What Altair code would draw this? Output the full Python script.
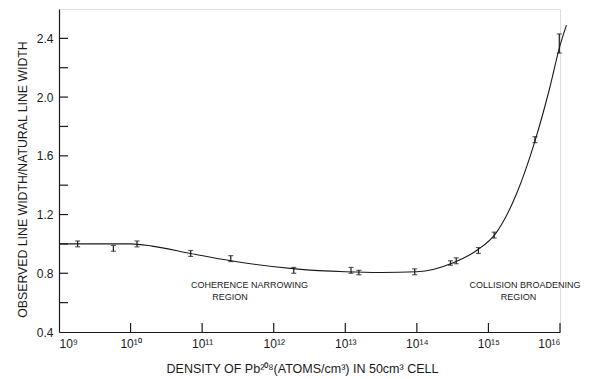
import altair as alt
import pandas as pd

# measured points: log10(density), ratio, error low, error high
pt_logx = [9.26, 9.76, 10.09, 10.84, 11.40, 12.28, 13.08, 13.19, 13.97, 14.47, 14.55, 14.86, 15.08, 15.65, 15.99]
pt_y    = [1.00, 0.97, 1.00, 0.935, 0.90, 0.82, 0.82, 0.805, 0.81, 0.87, 0.885, 0.955, 1.06, 1.71, 2.37]
pt_lo   = [0.98, 0.95, 0.98, 0.915, 0.88, 0.80, 0.80, 0.79, 0.79, 0.855, 0.865, 0.935, 1.04, 1.69, 2.30]
pt_hi   = [1.02, 0.99, 1.02, 0.955, 0.92, 0.84, 0.84, 0.82, 0.83, 0.885, 0.905, 0.975, 1.08, 1.73, 2.43]

# hand-drawn smooth curve through the data
curve_logx = [9.0, 9.5, 10.0, 10.3, 10.84, 11.4, 12.3, 13.0, 13.5, 14.0, 14.5, 14.85, 15.1, 15.4, 15.65, 15.85, 16.0, 16.09]
curve_y    = [1.0, 1.0, 1.0, 0.985, 0.935, 0.885, 0.83, 0.81, 0.805, 0.81, 0.87, 0.96, 1.07, 1.35, 1.70, 2.05, 2.35, 2.49]

x_ticks = [10, 11, 12, 13, 14, 15, 16]
x_labels = {9: "10⁹", 10: "10¹⁰", 11: "10¹¹", 12: "10¹²", 13: "10¹³", 14: "10¹⁴", 15: "10¹⁵", 16: "10¹⁶"}
y_label_vals = [0.4, 0.8, 1.2, 1.6, 2.0, 2.4]
y_ticks = [0.6, 0.8, 1.0, 1.2, 1.4, 1.6, 1.8, 2.0, 2.2, 2.4]

notes_text = ["COHERENCE NARROWING", "REGION", "COLLISION BROADENING", "REGION"]
notes_x = [11.66, 11.39, 15.51, 15.42]
notes_y = [0.72, 0.635, 0.72, 0.635]

W, H = 501, 323
INK = "#1a1a1a"
FONT = "Liberation Sans"
XT = "DENSITY OF Pb²⁰⁸(ATOMS/cm³) IN 50cm³ CELL"
YT = "OBSERVED LINE WIDTH/NATURAL LINE WIDTH"

pts = pd.DataFrame({"x": pt_logx, "y": pt_y, "lo": pt_lo, "hi": pt_hi})
curve = pd.DataFrame({"x": curve_logx, "y": curve_y})
xt = pd.DataFrame({"x": x_ticks})
yt = pd.DataFrame({"y": y_ticks})
notes = pd.DataFrame({"t": notes_text, "x": notes_x, "y": notes_y})

xscale = alt.Scale(domain=[9, 16], nice=False, zero=False)
yscale = alt.Scale(domain=[0.4, 2.6], nice=False, zero=False)

label_expr = "{" + ",".join(f"'{k}':'{v}'" for k, v in x_labels.items()) + "}[datum.value]"

xaxis = alt.Axis(
    values=list(x_labels.keys()), labelExpr=label_expr, ticks=False, grid=False,
    domainColor=INK, domainWidth=1.2, labelColor=INK, labelFont=FONT, labelFontSize=12,
    labelPadding=6, titleFont=FONT, titleFontSize=12.5,
    titleFontWeight="normal", titleColor=INK, titleX=243, titleY=36, titleBaseline="middle",
    titleAlign="center",
)
yaxis = alt.Axis(
    values=y_label_vals, format=".1f", ticks=False, grid=False,
    domainColor=INK, domainWidth=1.2, labelColor=INK, labelFont=FONT, labelFontSize=12,
    labelPadding=6, titleFont=FONT, titleFontSize=12.3,
    titleFontWeight="normal", titleColor=INK, titleX=-37, titleY=170, titleAngle=-90,
    titleBaseline="middle", titleAlign="center",
)

X = lambda f="x": alt.X(f"{f}:Q", scale=xscale, axis=xaxis, title=XT)
Y = lambda f="y": alt.Y(f"{f}:Q", scale=yscale, axis=yaxis, title=YT)

line = alt.Chart(curve).mark_line(color=INK, strokeWidth=1.1, interpolate="monotone", clip=False).encode(
    x=X(), y=Y(),
)

bars = alt.Chart(pts).mark_errorbar(color=INK, thickness=1.2, ticks={"size": 5, "thickness": 1.2, "color": INK}).encode(
    x=X(), y=Y("lo"), y2="hi:Q",
)

xtick = alt.Chart(xt).mark_rule(color=INK, strokeWidth=1.2).encode(
    x=X(), y=alt.value(H), y2=alt.value(H - 9)
)
ytick = alt.Chart(yt).mark_rule(color=INK, strokeWidth=1.2).encode(
    y=Y(), x=alt.value(0), x2=alt.value(9)
)

txt = alt.Chart(notes).mark_text(font=FONT, fontSize=9, color=INK, align="center", baseline="middle").encode(
    x=X(), y=Y(), text="t:N",
)

chart = alt.layer(line, bars, xtick, ytick, txt).properties(
    width=W, height=H, padding={"left": 8, "top": 1, "right": 5, "bottom": 5}
).configure_view(stroke=None).configure(background="white")

chart.save("out.html", embed_options={"renderer": "svg", "actions": False})
